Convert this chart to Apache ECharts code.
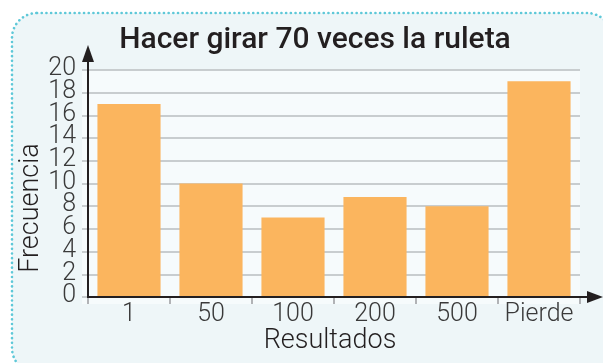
<!DOCTYPE html>
<html>
<head>
<meta charset="utf-8">
<script src="https://cdn.jsdelivr.net/npm/echarts@6/dist/echarts.min.js"></script>
<style>
  html, body { margin: 0; padding: 0; background: #ffffff; }
  #chart { width: 603px; height: 363px; }
</style>
</head>
<body>
<div id="chart"></div>
<script>
// Results of spinning the wheel 70 times
const titleText = 'Hacer girar 70 veces la ruleta';
const categories = ['1', '50', '100', '200', '500', 'Pierde'];
const frequencies = [17, 10, 7, 8.8, 8, 19];
const yTicks = { min: 0, max: 20, interval: 2 };
const yTickLabels = ['0', '2', '4', '6', '8', '10', '12', '14', '16', '18', '20'];
const xName = 'Resultados';
const yName = 'Frecuencia';

const ink = '#231f20';
const labelInk = '#3a3a3a';
const gridGray = '#c8cdcf';
const barColor = '#fbb55e';
const fontFamily = 'Roboto, "DejaVu Sans", sans-serif';

const chart = echarts.init(document.getElementById('chart'), null, { renderer: 'canvas' });

const option = {
  animation: false,
  backgroundColor: '#ffffff',
  grid: { left: 88, right: 23, top: 70, bottom: 66, containLabel: false },
  xAxis: {
    type: 'category',
    data: categories,
    axisLine: { show: false },
    axisTick: { show: true, alignWithLabel: false, length: 7, lineStyle: { color: '#9a9c9e', width: 1.5 } },
    axisLabel: { color: labelInk, fontFamily, fontSize: 25, fontWeight: 300, margin: 5, interval: 0 },
    splitLine: { show: false }
  },
  yAxis: {
    type: 'value',
    min: yTicks.min,
    max: yTicks.max,
    interval: yTicks.interval,
    axisLine: { show: false },
    axisTick: { show: true, length: 6, lineStyle: { color: gridGray, width: 2 } },
    // the tightly packed tick labels are set below so none get dropped as overlapping
    axisLabel: { show: false },
    splitLine: { show: true, lineStyle: { color: gridGray, width: 2 } }
  },
  series: [{
    type: 'bar',
    data: frequencies,
    barWidth: '77%',
    itemStyle: { color: barColor },
    z: 3
  }]
};
chart.setOption(option);

// Frame, plot panel, arrowed axes, tick labels and titles placed from the axis scales
const c0 = chart.convertToPixel({ xAxisIndex: 0 }, 0);
const c1 = chart.convertToPixel({ xAxisIndex: 0 }, 1);
const bandW = c1 - c0;
const xLeft = c0 - bandW / 2;
const plotRight = xLeft + bandW * categories.length;
const yBottom = chart.convertToPixel({ yAxisIndex: 0 }, yTicks.min);
const plotTop = chart.convertToPixel({ yAxisIndex: 0 }, yTicks.max);
const axisW = 2;

const yLabelEls = yTickLabels.map(function (t) {
  return {
    type: 'text', z: 10, silent: true,
    style: {
      text: t, x: xLeft - 12, y: chart.convertToPixel({ yAxisIndex: 0 }, Number(t)) - 1,
      align: 'right', verticalAlign: 'middle', font: '300 25px ' + fontFamily, fill: labelInk
    }
  };
});

chart.setOption({
  graphic: [
    {
      type: 'rect', z: -10, silent: true,
      shape: { x: 12, y: 13, width: 600, height: 360, r: 25 },
      style: { fill: '#eef6f8', stroke: '#5ec8d8', lineWidth: 2.6, lineDash: [0.1, 4.6], lineCap: 'round' }
    },
    {
      type: 'rect', z: -9, silent: true,
      shape: { x: xLeft - 6, y: plotTop, width: plotRight - (xLeft - 6), height: yBottom + 7 - plotTop },
      style: { fill: '#f6fbfc' }
    },
    {
      type: 'line', z: 10, silent: true,
      shape: { x1: xLeft, y1: yBottom + 1, x2: xLeft, y2: 58 },
      style: { stroke: ink, lineWidth: axisW }
    },
    {
      type: 'polygon', z: 10, silent: true,
      shape: { points: [[xLeft, 45], [xLeft - 6, 62], [xLeft + 6, 62]] },
      style: { fill: ink }
    },
    {
      type: 'line', z: 10, silent: true,
      shape: { x1: xLeft - 1, y1: yBottom, x2: 592, y2: yBottom },
      style: { stroke: ink, lineWidth: axisW }
    },
    {
      type: 'polygon', z: 10, silent: true,
      shape: { points: [[603, yBottom], [587, yBottom - 6], [587, yBottom + 6]] },
      style: { fill: ink }
    },
    {
      type: 'text', z: 10, silent: true,
      style: { text: titleText, x: 315, y: 40, align: 'center', verticalAlign: 'middle',
               font: '500 30px ' + fontFamily, fill: ink }
    },
    {
      type: 'text', z: 10, silent: true,
      style: { text: xName, x: 330, y: 341, align: 'center', verticalAlign: 'middle',
               font: '300 27px ' + fontFamily, fill: ink }
    },
    {
      type: 'text', z: 10, silent: true,
      x: 31, y: 208, rotation: Math.PI / 2,
      style: { text: yName, x: 0, y: 0, align: 'center', verticalAlign: 'middle',
               font: '300 27px ' + fontFamily, fill: ink }
    }
  ].concat(yLabelEls)
});
</script>
</body>
</html>
